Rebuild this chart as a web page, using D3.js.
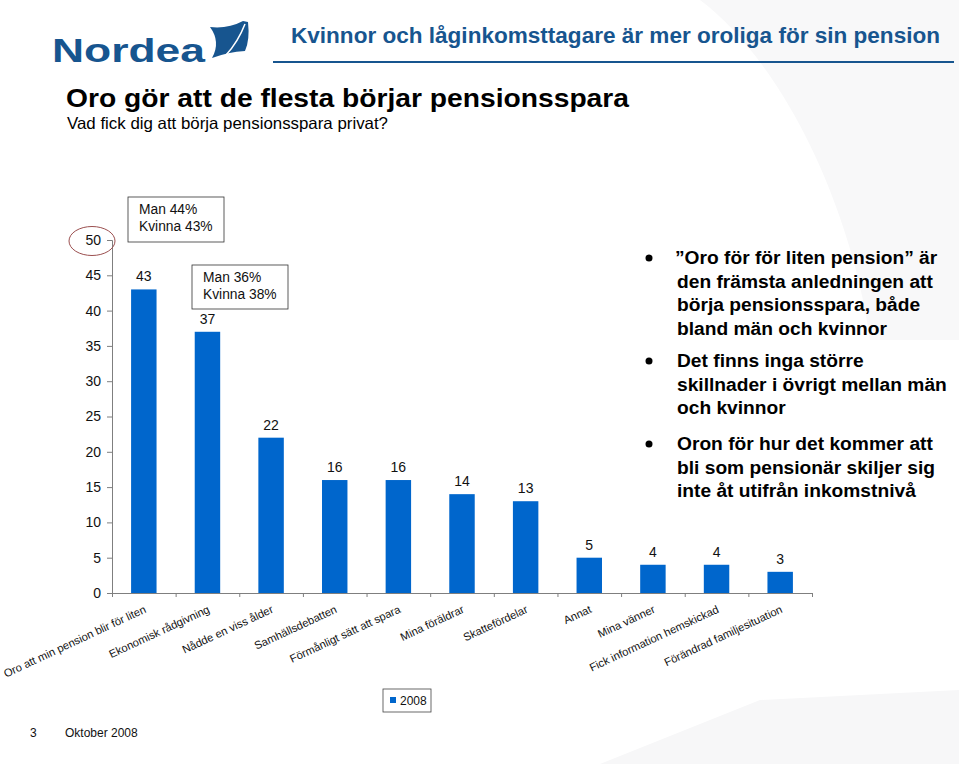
<!DOCTYPE html>
<html><head><meta charset="utf-8">
<script src="https://cdn.jsdelivr.net/npm/d3@7"></script>
<style>
html,body{margin:0;padding:0;background:#fff;}
svg{display:block;font-family:"Liberation Sans",Arial,sans-serif;}
</style></head>
<body>
<svg id="c" width="959" height="764"></svg>
<script>
const categories = ["Oro att min pension blir för liten","Ekonomisk rådgivning","Nådde en viss ålder","Samhällsdebatten","Förmånligt sätt att spara","Mina föräldrar","Skattefördelar","Annat","Mina vänner","Fick information hemskickad","Förändrad familjesituation"];
const values2008 = [43,37,22,16,16,14,13,5,4,4,3];
const yTicks = [0,5,10,15,20,25,30,35,40,45,50];
const seriesName = "2008";
const annotations = [["Man 44%","Kvinna 43%"],["Man 36%","Kvinna 38%"]];
const bullets = [
 ["\u201dOro för för liten pension\u201d är","den främsta anledningen att","börja pensionsspara, både","bland män och kvinnor"],
 ["Det finns inga större","skillnader i övrigt mellan män","och kvinnor"],
 ["Oron för hur det kommer att","bli som pensionär skiljer sig","inte åt utifrån inkomstnivå"]
];
const headerTitle = "Kvinnor och låginkomsttagare är mer oroliga för sin pension";
const mainTitle = "Oro gör att de flesta börjar pensionsspara";
const subTitle = "Vad fick dig att börja pensionsspara privat?";

const svg = d3.select("#c");
const blue = "#0066cc";
const navy = "#17558f";

// faint background swooshes
const bg = svg.append("g");
bg.append("path").attr("d","M700,0 C780,60 850,200 870,340 L959,340 L959,0 Z").attr("fill","#f8f8f9");
bg.append("path").attr("d","M600,764 L760,700 L959,690 L959,764 Z").attr("fill","#f7f7f8");

// logo
const logo = svg.append("g");
logo.append("text").attr("x",52).attr("y",62).attr("font-size",33).attr("font-weight","bold")
  .attr("fill",navy).attr("textLength",153).attr("lengthAdjust","spacingAndGlyphs").text("Nordea");
logo.append("path").attr("d","M210,27 Q228,29 243,21 L248,22 Q250,40 245,51 Q228,52 212,58 Q221,42 210,27 Z").attr("fill",navy);
logo.append("path").attr("d","M245,24 Q238,42 226,55").attr("stroke","#fff").attr("stroke-width",1.5).attr("fill","none");

// header
svg.append("text").attr("x",291).attr("y",43).attr("font-size",21.5).attr("font-weight","bold")
  .attr("fill",navy).attr("textLength",649).attr("lengthAdjust","spacingAndGlyphs").text(headerTitle);
svg.append("line").attr("x1",273).attr("x2",954).attr("y1",62).attr("y2",62).attr("stroke",navy).attr("stroke-width",2);

svg.append("text").attr("x",66).attr("y",107).attr("font-size",25).attr("font-weight","bold").attr("fill","#000")
  .attr("textLength",563).attr("lengthAdjust","spacingAndGlyphs").text(mainTitle);
svg.append("text").attr("x",67).attr("y",129).attr("font-size",16.5).attr("fill","#000")
  .attr("textLength",321).attr("lengthAdjust","spacingAndGlyphs").text(subTitle);

// chart
const x = d3.scaleBand().domain(categories).range([112,812]).paddingInner(0.6).paddingOuter(0.3);
const y = d3.scaleLinear().domain([0,50]).range([593,240]);
const xb = d3.scaleLinear().domain([0,categories.length]).range([112,812]);

const ch = svg.append("g");
const yAxis = ch.append("g").attr("transform","translate(112,0)")
  .call(d3.axisLeft(y).tickValues(yTicks).tickSize(5).tickPadding(6));
yAxis.selectAll("text").attr("font-size",14).attr("fill","#111").attr("font-family","Liberation Sans, Arial, sans-serif");
yAxis.selectAll("line,path").attr("stroke","#7f7f7f");

const xAxis = ch.append("g").attr("transform","translate(0,593)")
  .call(d3.axisBottom(xb).tickValues(d3.range(categories.length+1)).tickFormat("").tickSize(4).tickSizeOuter(0));
xAxis.selectAll("line,path").attr("stroke","#7f7f7f");

ch.selectAll("rect.bar").data(values2008).join("rect").attr("class","bar")
  .attr("x",(d,i)=>x(categories[i])).attr("width",x.bandwidth())
  .attr("y",d=>y(d)).attr("height",d=>y(0)-y(d)).attr("fill",blue);

ch.selectAll("text.val").data(values2008).join("text").attr("class","val")
  .attr("x",(d,i)=>x(categories[i])+x.bandwidth()/2).attr("y",d=>y(d)-8)
  .attr("text-anchor","middle").attr("font-size",14).attr("fill","#111").text(d=>d);

ch.selectAll("text.cat").data(categories).join("text").attr("class","cat")
  .attr("transform",d=>`translate(${x(d)+x.bandwidth()/2+3},612) rotate(-25)`)
  .attr("text-anchor","end").attr("font-size",11.2).attr("fill","#111").text(d=>d);

// circle around 50
svg.append("ellipse").attr("cx",92).attr("cy",241).attr("rx",23).attr("ry",14.5)
  .attr("fill","none").attr("stroke","#9b4f4f").attr("stroke-width",1);

// annotation boxes
const boxes = [{x:128,y:197,w:96,h:45},{x:192,y:265,w:96,h:44}];
boxes.forEach((b,i)=>{
  svg.append("rect").attr("x",b.x).attr("y",b.y).attr("width",b.w).attr("height",b.h)
    .attr("fill","#fff").attr("stroke","#333").attr("stroke-width",0.8);
  annotations[i].forEach((t,j)=>{
    svg.append("text").attr("x",b.x+11).attr("y",b.y+17+j*17).attr("font-size",13.8).attr("fill","#111").text(t);
  });
});

// bullets
const bStarts = [264,367,450];
bullets.forEach((lines,i)=>{
  svg.append("circle").attr("cx",649).attr("cy",bStarts[i]-6).attr("r",3.5).attr("fill","#000");
  lines.forEach((t,j)=>{
    svg.append("text").attr("x",i===0&&j===0?675:677).attr("y",bStarts[i]+j*23.5)
      .attr("font-size",19.2).attr("font-weight","bold").attr("fill","#000").text(t);
  });
});

// legend
const lg = svg.append("g");
lg.append("rect").attr("x",383).attr("y",689).attr("width",48).attr("height",23).attr("fill","#fff").attr("stroke","#444").attr("stroke-width",0.8);
lg.append("rect").attr("x",390).attr("y",697).attr("width",6).attr("height",6).attr("fill",blue);
lg.append("text").attr("x",400).attr("y",705).attr("font-size",12).attr("fill","#111").text(seriesName);

// footer
svg.append("text").attr("x",30).attr("y",737).attr("font-size",12).attr("fill","#111").text("3");
svg.append("text").attr("x",65).attr("y",737).attr("font-size",12).attr("fill","#111").text("Oktober 2008");
</script>
</body></html>
